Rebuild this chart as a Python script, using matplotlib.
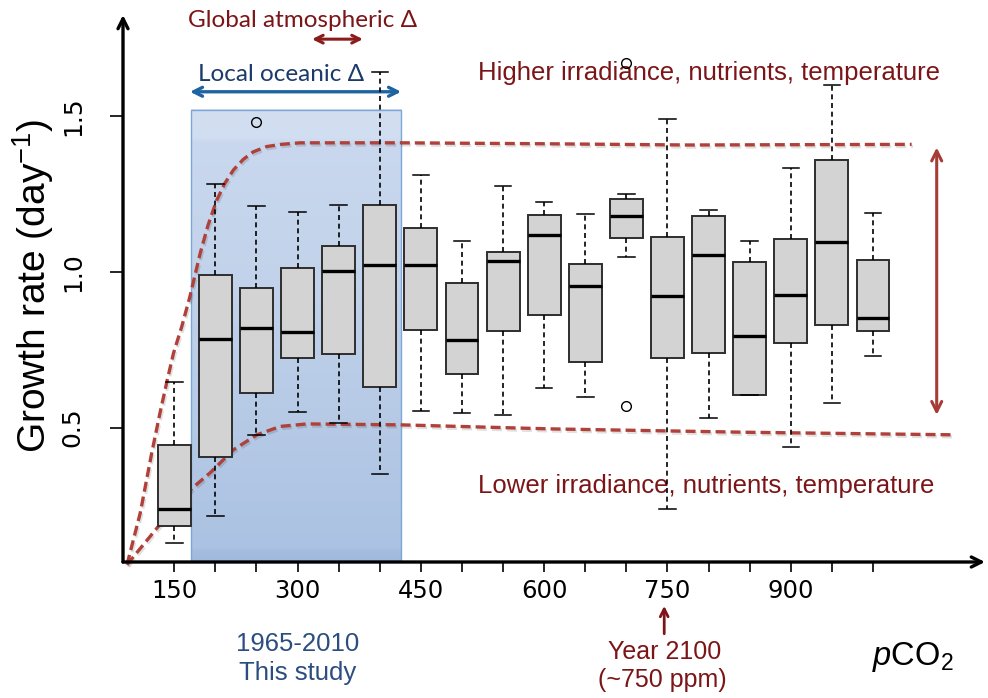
import numpy as np
import matplotlib.pyplot as plt
import matplotlib.patheffects as pe
from matplotlib.colors import LinearSegmentedColormap

plt.rcParams['font.family'] = ['Liberation Sans', 'DejaVu Sans']
plt.rcParams['mathtext.fontset'] = 'custom'
plt.rcParams['mathtext.rm'] = 'Liberation Sans'
plt.rcParams['mathtext.it'] = 'Liberation Sans:italic'
plt.rcParams['mathtext.default'] = 'regular'

# --- Growth rate per pCO2 bin (box statistics)
pco2   = [150, 200, 250, 300, 350, 400, 450, 500, 550, 600, 650, 700, 750, 800, 850, 900, 950, 1000]
whislo = [0.129, 0.216, 0.477, 0.551, 0.516, 0.350, 0.552, 0.548, 0.540, 0.628, 0.598, 1.049, 0.240, 0.531, 0.605, 0.439, 0.580, 0.730]
q1     = [0.184, 0.407, 0.610, 0.724, 0.736, 0.631, 0.814, 0.673, 0.809, 0.863, 0.710, 1.110, 0.725, 0.741, 0.606, 0.771, 0.831, 0.810]
med    = [0.239, 0.785, 0.820, 0.807, 1.004, 1.024, 1.022, 0.782, 1.035, 1.119, 0.955, 1.181, 0.923, 1.056, 0.795, 0.925, 1.095, 0.852]
q3     = [0.444, 0.990, 0.948, 1.012, 1.085, 1.214, 1.140, 0.964, 1.065, 1.183, 1.026, 1.235, 1.113, 1.180, 1.031, 1.105, 1.359, 1.040]
whishi = [0.648, 1.283, 1.211, 1.192, 1.214, 1.642, 1.311, 1.101, 1.277, 1.226, 1.186, 1.249, 1.490, 1.198, 1.100, 1.333, 1.600, 1.190]
outliers = {250: [1.481], 700: [1.672, 0.570]}

# --- Envelope curves (x in box index units)
upper_x = [-0.15, 0.17, 0.45, 0.65, 0.82, 0.98, 1.18, 1.38, 1.63, 1.82, 2.03, 2.23, 2.44, 2.68, 2.92, 3.25, 3.6, 4.06, 6.5, 10.0, 13.5, 18.94]
upper_y = [0.06, 0.225, 0.418, 0.546, 0.648, 0.739, 0.824, 0.921, 1.06, 1.15, 1.23, 1.285, 1.328, 1.362, 1.386, 1.403, 1.41, 1.415, 1.415, 1.412, 1.408, 1.41]
lower_x = [-0.15, 0.62, 1.43, 1.88, 2.44, 3.01, 3.58, 4.23, 6.5, 10.15, 15.0, 19.95]
lower_y = [0.06, 0.184, 0.305, 0.356, 0.429, 0.477, 0.504, 0.512, 0.509, 0.496, 0.485, 0.477]

# shaded period 1965-2010 (x range in box index units, top in growth rate)
study_x = [1.41, 6.52]
study_top = 1.522

yticks = [0.5, 1.0, 1.5]

pos = np.arange(1, len(pco2) + 1)
xlabels = [str(v) if (v - 150) % 150 == 0 else '' for v in pco2]

dred = '#7b1517'
cred = '#b0413a'
calib = ['Lato', 'Open Sans', 'DejaVu Sans']

fig = plt.figure(figsize=(9.88, 6.98), dpi=100)
ax = fig.add_axes([123/988, 136/698, 862/988, 547/698])
x0, x1 = -0.248, 20.725
y0, y1 = 0.0684, 1.8256

# --- Shaded study period
cmap = LinearSegmentedColormap.from_list('study', [
    (0.0, '#a0b9dc'), (0.025, '#a5bddf'), (0.03, '#abc2e2'),
    (0.6, '#c1d2ea'), (0.93, '#c9d8ee'), (0.935, '#d1ddf0'), (1.0, '#d3dff1')])
grad = np.linspace(0, 1, 256).reshape(-1, 1)
ax.imshow(grad, extent=[study_x[0], study_x[1], y0, study_top], origin='lower',
          aspect='auto', cmap=cmap, zorder=0.5)
ax.add_patch(plt.Rectangle((study_x[0], y0), study_x[1]-study_x[0], study_top-y0,
                           fill=False, ec='#7ba7d9', lw=1.0, zorder=0.6))

# --- Envelope curves
shadow = [pe.SimpleLineShadow(offset=(1, -1.5), alpha=0.12), pe.Normal()]
for xs, ys in [(upper_x, upper_y), (lower_x, lower_y)]:
    ax.plot(xs, ys, color=cred, lw=2.4, dashes=(3, 1.5), clip_on=False,
            zorder=2, path_effects=shadow)

# --- Boxplots
stats = []
for i, v in enumerate(pco2):
    stats.append(dict(whislo=whislo[i], q1=q1[i], med=med[i], q3=q3[i],
                      whishi=whishi[i], fliers=outliers.get(v, [])))
ax.bxp(stats, positions=pos, widths=0.8, capwidths=0.4, patch_artist=True,
       boxprops=dict(facecolor='#d3d3d3', edgecolor='#2e2e2e', lw=1.4),
       medianprops=dict(color='k', lw=2.4),
       whiskerprops=dict(color='k', lw=1.2, linestyle=(0, (3, 2.2))),
       capprops=dict(color='k', lw=1.1),
       flierprops=dict(marker='o', ms=7, mfc='none', mec='k', mew=1.0),
       zorder=4)

ax.set_xlim(x0, x1)
ax.set_ylim(y0, y1)

# --- Axes with arrows
for s in ax.spines.values():
    s.set_visible(False)
ax.annotate('', xy=(1, 0), xytext=(0, 0), xycoords='axes fraction',
            arrowprops=dict(arrowstyle='->', lw=2.4, color='k', shrinkA=0, shrinkB=0,
                            mutation_scale=18), zorder=6)
ax.annotate('', xy=(0, 1), xytext=(0, 0), xycoords='axes fraction',
            arrowprops=dict(arrowstyle='->', lw=2.4, color='k', shrinkA=0, shrinkB=0,
                            mutation_scale=18), zorder=6)

ax.set_xticks(pos, xlabels, fontsize=17.5, family='DejaVu Sans')
ax.set_yticks(yticks, [f'{v:.1f}' for v in yticks], fontsize=18, rotation=90, va='center',
              family='DejaVu Sans')
ax.tick_params(axis='x', length=7, width=1.2, pad=5)
ax.tick_params(axis='y', length=9.5, width=1.2, pad=18)

fig.text(33/988, 1-286/698, 'Growth rate (day$^{-1}$)', rotation=90, ha='center',
         va='center', fontsize=28)

# --- Annotations
ax.text(8.38, 1.617, 'Higher irradiance, nutrients, temperature', color=dred,
        fontsize=18.5, ha='left', va='baseline')
ax.text(8.38, 0.289, 'Lower irradiance, nutrients, temperature', color=dred,
        fontsize=18.5, ha='left', va='baseline')
ax.annotate('', xy=(19.55, 1.40), xytext=(19.55, 0.541),
            arrowprops=dict(arrowstyle='<->', lw=2.2, color='#a63c35', shrinkA=0,
                            shrinkB=0, mutation_scale=18), annotation_clip=False)

ax.text(4.11, 1.788, 'Global atmospheric Δ', color=dred, fontsize=17.5,
        family=calib, ha='center', va='baseline')
ax.annotate('', xy=(5.59, 1.748), xytext=(4.35, 1.748),
            arrowprops=dict(arrowstyle='<->', lw=2.2, color='#8b1c1c', shrinkA=0,
                            shrinkB=0, mutation_scale=14), annotation_clip=False)
ax.text(3.6, 1.614, 'Local oceanic Δ', color='#1c3a6b', fontsize=17.5,
        family=calib, ha='center', va='baseline')
ax.annotate('', xy=(study_x[1], 1.579), xytext=(study_x[0] - 0.03, 1.579),
            arrowprops=dict(arrowstyle='<->', lw=2.4, color='#1f64a0', shrinkA=0,
                            shrinkB=0, mutation_scale=16), annotation_clip=False)

ax.text(4.0, -0.218, '1965-2010', color='#2b4d80', fontsize=18.5, ha='center', va='baseline')
ax.text(4.0, -0.31, 'This study', color='#2b4d80', fontsize=18.5, ha='center', va='baseline')

ax.annotate('', xy=(12.92, -0.0726), xytext=(12.92, -0.162),
            arrowprops=dict(arrowstyle='->', lw=2.0, color=dred, shrinkA=0, shrinkB=0,
                            mutation_scale=14), annotation_clip=False)
ax.text(12.92, -0.243, 'Year 2100', color=dred, fontsize=18, ha='center', va='baseline')
ax.text(12.88, -0.332, '(~750 ppm)', color=dred, fontsize=18, ha='center', va='baseline')

ax.text(17.98, -0.263, r'$\mathit{p}$CO$_2$', fontsize=23.5, ha='left', va='baseline')

fig.savefig('out.png', dpi=100)
